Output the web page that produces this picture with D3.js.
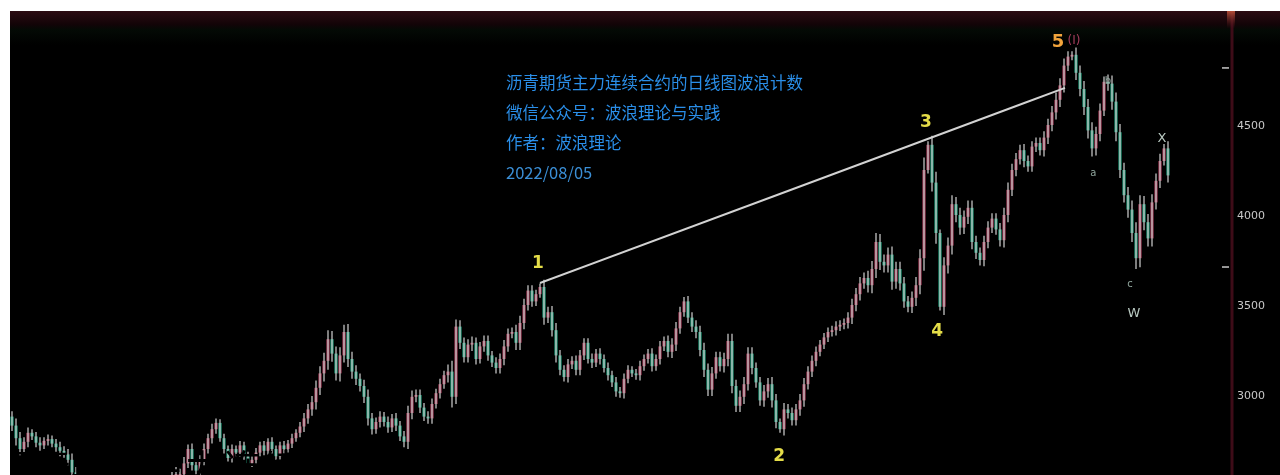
<!DOCTYPE html>
<html lang="zh">
<head>
<meta charset="UTF-8">
<title>沥青期货主力连续合约日线图波浪计数</title>
<style>
    body { margin: 0; background: #fff; }
    svg { display: block; }
</style>
</head>
<body>
<svg id="chart" width="1280" height="475"></svg>
<script src="https://d3js.org/d3.v7.min.js"></script>
<script>
    /* global d3 */

    // daily closes (open = previous close)
    const firstOpen = 2880;
    const closes = [
        2830, 2760, 2700, 2740, 2790, 2770, 2735, 2720, 2745, 2755,
        2730, 2710, 2690, 2670, 2640, 2570, 2530, 2500, 2480, 2450,
        2430, 2460, 2440, 2410, 2390, 2420, 2400, 2380, 2410, 2430,
        2400, 2420, 2450, 2470, 2440, 2460, 2490, 2510, 2480, 2520,
        2540, 2560, 2560, 2620, 2700, 2610, 2580, 2640, 2700, 2760,
        2810, 2845, 2760, 2700, 2650, 2700, 2680, 2720, 2660, 2620,
        2640, 2680, 2720, 2690, 2740, 2700, 2660, 2720, 2700, 2730,
        2760, 2790, 2825, 2870, 2920, 2960, 3040, 3120, 3190, 3310,
        3230, 3120, 3220, 3350, 3200, 3130, 3090, 3050, 2990, 2870,
        2810, 2850, 2880, 2850, 2820, 2870, 2830, 2770, 2740, 2900,
        2990, 3000, 2930, 2880, 2870, 2950, 3010, 3060, 3110, 3130,
        2990, 3380, 3290, 3210, 3280, 3290, 3200, 3270, 3300, 3220,
        3180, 3150, 3200, 3270, 3340, 3350, 3290, 3400, 3500, 3580,
        3520, 3560, 3600, 3430, 3460, 3360, 3220, 3140, 3100, 3170,
        3190, 3140, 3220, 3290, 3200, 3180, 3230, 3200, 3150, 3110,
        3070, 3020, 3010, 3090, 3140, 3120, 3110, 3160, 3200, 3230,
        3160, 3200, 3270, 3300, 3240, 3280, 3370, 3460, 3520, 3430,
        3380, 3350, 3250, 3140, 3030, 3120, 3210, 3160, 3200, 3300,
        3050, 2940, 2990, 3060, 3230, 3150, 3070, 2970, 3020, 3060,
        2970, 2850, 2810, 2920, 2900, 2860, 2920, 2970, 3060, 3130,
        3190, 3240, 3280, 3320, 3350, 3360, 3380, 3390, 3400, 3430,
        3500, 3560, 3620, 3650, 3610, 3700, 3850, 3740, 3720, 3780,
        3630, 3700, 3620, 3520, 3490, 3540, 3610, 3760, 4250, 4390,
        4180, 3900, 3490, 3720, 3830, 4060, 4000, 3930, 3990, 4040,
        3850, 3790, 3750, 3850, 3930, 3980, 3920, 3860, 4000, 4140,
        4250, 4310, 4360, 4300, 4270, 4380, 4400, 4360, 4430, 4500,
        4570, 4640, 4720, 4830, 4880, 4890, 4790, 4700, 4600, 4470,
        4370, 4450, 4580, 4740, 4730, 4630, 4460, 4250, 4110, 4030,
        3900, 3760, 4060, 3960, 3870, 4070, 4190, 4300, 4370, 4220
    ];
    // shadow length beyond the body, per candle
    const wicks = [
        30, 40, 35, 25, 30, 20, 25, 30, 20, 25,
        20, 25, 30, 25, 30, 35, 30, 25, 30, 20,
        25, 30, 20, 25, 30, 25, 20, 30, 25, 20,
        25, 30, 20, 25, 30, 25, 20, 30, 25, 30,
        35, 40, 30, 35, 25, 30, 20, 25, 30, 25,
        30, 25, 20, 25, 20, 25, 20, 25, 20, 25,
        20, 25, 20, 25, 20, 25, 20, 20, 25, 20,
        25, 20, 25, 30, 30, 35, 40, 40, 45, 50,
        45, 40, 45, 40, 45, 40, 35, 30, 35, 40,
        30, 25, 30, 25, 30, 25, 30, 25, 30, 40,
        35, 30, 30, 25, 30, 30, 25, 30, 25, 40,
        60, 40, 35, 30, 30, 35, 30, 25, 30, 30,
        25, 30, 30, 35, 30, 25, 40, 40, 35, 30,
        30, 25, 20, 40, 30, 35, 40, 30, 25, 30,
        25, 30, 30, 25, 25, 30, 25, 30, 25, 30,
        25, 30, 25, 30, 25, 20, 25, 30, 25, 25,
        30, 25, 30, 25, 30, 35, 35, 30, 25, 30,
        30, 35, 35, 40, 35, 35, 30, 30, 35, 40,
        40, 35, 35, 40, 35, 35, 30, 30, 35, 35,
        40, 35, 20, 35, 30, 30, 30, 35, 35, 30,
        30, 30, 25, 25, 25, 25, 30, 25, 25, 30,
        35, 35, 35, 30, 40, 45, 50, 45, 40, 40,
        45, 40, 40, 35, 30, 35, 45, 50, 70, 20,
        50, 60, 20, 45, 45, 50, 40, 40, 35, 40,
        40, 35, 30, 35, 35, 30, 30, 35, 40, 40,
        35, 35, 30, 35, 30, 30, 30, 30, 35, 35,
        35, 40, 40, 40, 30, 20, 40, 40, 45, 45,
        45, 40, 40, 30, 40, 45, 50, 45, 40, 45,
        50, 60, 50, 45, 45, 45, 40, 40, 25, 40
    ];

    const yTicks = [3000, 3500, 4000, 4500];
    const markLevels = [4817, 3711];

    const noteLines = [
        "沥青期货主力连续合约的日线图波浪计数",
        "微信公众号：波浪理论与实践",
        "作者：波浪理论",
        "2022/08/05"
    ];

    // wave count labels, placed in bar index / price space
    const waveLabels = [
        {text: "1", i: 131.5, v: 3739, kind: "main"},
        {text: "2", i: 191.8, v: 2667, kind: "main"},
        {text: "3", i: 228.5, v: 4522, kind: "main"},
        {text: "4", i: 231.3, v: 3361, kind: "main"},
        {text: "5", i: 261.5, v: 4972, kind: "top"},
        {text: "(I)", i: 265.5, v: 4972, kind: "deg"},
        {text: "a", i: 270.3, v: 4239, kind: "minor"},
        {text: "b", i: 274.0, v: 4750, kind: "minor"},
        {text: "c", i: 279.5, v: 3622, kind: "minor"},
        {text: "W", i: 280.5, v: 3461, kind: "corr"},
        {text: "X", i: 287.5, v: 4433, kind: "corr"}
    ];

    // line drawn through the tops of waves 1 and 3
    const trendLine = [
        {i: 132, v: 3622},
        {i: 263.25, v: 4706}
    ];

    const svg = d3.select("#chart"),
        panel = {left: 10, top: 11, right: 1280, bottom: 475},
        axisX = 1232,
        x = d3.scaleLinear().domain([0, closes.length - 1]).range([12, 1168]),
        y = d3.scaleLinear().domain([3000, 4500]).range([395, 125]);

    const defs = svg.append("defs");
    defs.append("clipPath").attr("id", "plot")
        .append("rect")
        .attr("x", panel.left).attr("y", panel.top)
        .attr("width", axisX - panel.left - 2).attr("height", panel.bottom - panel.top);

    const topGrad = defs.append("linearGradient").attr("id", "topband")
        .attr("x1", 0).attr("y1", 0).attr("x2", 0).attr("y2", 1);
    topGrad.append("stop").attr("offset", "0%").attr("stop-color", "#2c0b12");
    topGrad.append("stop").attr("offset", "40%").attr("stop-color", "#120407");
    topGrad.append("stop").attr("offset", "55%").attr("stop-color", "#040a05");
    topGrad.append("stop").attr("offset", "100%").attr("stop-color", "#000");

    const glow = defs.append("linearGradient").attr("id", "axisglow")
        .attr("x1", 0).attr("y1", 0).attr("x2", 0).attr("y2", 1);
    glow.append("stop").attr("offset", "0%").attr("stop-color", "#c8583c").attr("stop-opacity", 0.85);
    glow.append("stop").attr("offset", "100%").attr("stop-color", "#5a1420").attr("stop-opacity", 0);

    defs.append("filter").attr("id", "soft")
        .append("feGaussianBlur").attr("stdDeviation", 0.55);

    // background panel
    svg.append("rect")
        .attr("x", panel.left).attr("y", panel.top)
        .attr("width", panel.right - panel.left).attr("height", panel.bottom - panel.top)
        .attr("fill", "#000");
    svg.append("rect")
        .attr("x", panel.left).attr("y", panel.top)
        .attr("width", panel.right - panel.left).attr("height", 34)
        .attr("fill", "url(#topband)");

    const candles = closes.map(function (c, i) {
        const o = i === 0 ? firstOpen : closes[i - 1];
        return {i: i, o: o, c: c, h: Math.max(o, c) + wicks[i], l: Math.min(o, c) - wicks[i]};
    });

    const plot = svg.append("g").attr("clip-path", "url(#plot)");
    const bars = plot.append("g").attr("filter", "url(#soft)");

    bars.selectAll("rect.body")
        .data(candles)
        .join("rect")
        .attr("class", "body")
        .attr("x", d => x(d.i) - 1.6)
        .attr("width", 3.2)
        .attr("y", d => y(Math.max(d.o, d.c)))
        .attr("height", d => Math.max(1, Math.abs(y(d.o) - y(d.c))))
        .attr("fill", d => d.c >= d.o ? "#c24c6a" : "#2cb893")
        .attr("opacity", 0.85);

    bars.selectAll("line.wick")
        .data(candles)
        .join("line")
        .attr("class", "wick")
        .attr("x1", d => x(d.i)).attr("x2", d => x(d.i))
        .attr("y1", d => y(d.h)).attr("y2", d => y(d.l))
        .attr("stroke", "#c6c6c6")
        .attr("stroke-opacity", 0.85)
        .attr("stroke-width", 1.5);

    // trend line 1-3
    plot.append("path")
        .datum(trendLine)
        .attr("d", d3.line().x(d => x(d.i)).y(d => y(d.v)))
        .attr("fill", "none")
        .attr("stroke", "#d2d2d2")
        .attr("stroke-width", 2);

    // wave labels
    const labelStyle = {
        main: {fill: "#e4dc48", size: 17, weight: "bold"},
        top: {fill: "#f2a43c", size: 18, weight: "bold"},
        deg: {fill: "#a43c5c", size: 12, weight: "normal"},
        minor: {fill: "#8fa59c", size: 10, weight: "normal"},
        corr: {fill: "#b8c8c0", size: 13, weight: "normal"}
    };
    plot.selectAll("text.wave")
        .data(waveLabels)
        .join("text")
        .attr("class", "wave")
        .attr("x", d => x(d.i))
        .attr("y", d => y(d.v))
        .attr("dy", "0.36em")
        .attr("text-anchor", "middle")
        .attr("font-family", "DejaVu Sans, sans-serif")
        .attr("font-size", d => labelStyle[d.kind].size)
        .attr("font-weight", d => labelStyle[d.kind].weight)
        .attr("fill", d => labelStyle[d.kind].fill)
        .text(d => d.text);

    // note block
    svg.append("g")
        .selectAll("text")
        .data(noteLines)
        .join("text")
        .attr("x", 506)
        .attr("y", (d, i) => 89 + i * 30)
        .attr("font-family", "Noto Sans CJK SC, sans-serif")
        .attr("font-size", 16.5)
        .attr("fill", (d, i) => i === 3 ? "#3b8fd6" : "#2a8ee8")
        .text(d => d);

    // caption that sits in black over the lower edge
    plot.append("text")
        .attr("x", -5)
        .attr("y", 482)
        .attr("font-family", "Noto Sans CJK SC, sans-serif")
        .attr("font-size", 38)
        .attr("fill", "#000")
        .text(noteLines[0].slice(0, 10));

    // price axis
    svg.append("line")
        .attr("x1", axisX).attr("x2", axisX)
        .attr("y1", panel.top).attr("y2", panel.bottom)
        .attr("stroke", "#3e0c18")
        .attr("stroke-width", 3);
    svg.append("rect")
        .attr("x", axisX - 5).attr("y", panel.top)
        .attr("width", 8).attr("height", 18)
        .attr("fill", "url(#axisglow)");

    svg.selectAll("line.mark")
        .data(markLevels)
        .join("line")
        .attr("class", "mark")
        .attr("x1", axisX - 10).attr("x2", axisX - 3)
        .attr("y1", d => y(d)).attr("y2", d => y(d))
        .attr("stroke", "#c8c8c8")
        .attr("stroke-width", 1.5);

    const axis = svg.append("g")
        .attr("transform", "translate(" + axisX + ",0)")
        .call(d3.axisRight(y).tickValues(yTicks).tickSize(0).tickPadding(5)
            .tickFormat(d3.format("d")));
    axis.select(".domain").remove();
    axis.selectAll("text")
        .attr("fill", "#c8c8c8")
        .attr("font-family", "DejaVu Sans, sans-serif")
        .attr("font-size", 11);
</script>
</body>
</html>
